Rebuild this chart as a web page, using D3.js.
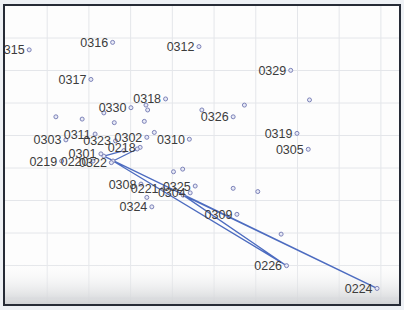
<!DOCTYPE html>
<html>
<head>
<meta charset="utf-8">
<script src="https://cdn.jsdelivr.net/npm/d3@7"></script>
<style>
  body { margin: 0; background: #eef1f5; }
  svg { display: block; }
</style>
</head>
<body>
<div class="chart"></div>
<script>
// labelled points (date, x, y)
const dates = ["0218","0219","0220","0221","0222","0223","0224","0225","0226","0227","0228",
  "0301","0302","0303","0304","0305","0308","0309","0310","0311","0312","0315","0316",
  "0317","0318","0319","0322","0323","0324","0325","0326","0329","0330"];
const xVals = [3.24,1.36,2.11,3.79,2.85,2.37,8.92,4.27,6.75,2.59,3.17,
  2.30,3.40,1.46,4.44,7.27,3.26,5.56,4.42,2.16,4.65,0.58,2.58,
  2.06,3.85,7.00,2.55,2.65,3.52,4.56,5.47,6.85,3.02];
const yVals = [4.62,4.20,4.20,3.34,4.52,4.35,0.28,3.15,0.98,4.20,4.57,
  4.42,4.93,4.85,3.22,4.56,3.49,2.56,4.87,5.03,7.72,7.62,7.85,
  6.71,6.11,5.05,4.15,4.82,2.79,3.43,5.56,6.99,5.84];
// dates whose label is not drawn
const unlabeled = ["0222","0223","0225","0227","0228"];
// dates joined by the line
const lineDates = ["0222","0223","0224","0225","0226","0227","0228"];

// unlabelled markers
const plainX = [3.38,3.42,1.22,1.85,2.62,3.34,2.37,5.74,7.30,4.72,3.58,4.04,4.26,3.40,5.47,6.06,6.62];
const plainY = [5.92,5.77,5.56,5.49,5.38,5.42,5.68,5.92,6.08,5.77,5.08,3.87,3.95,3.08,3.36,3.26,1.95];

const width = 404, height = 310;
const pLeft = 5, pRight = 400, pTop = 5, pBottom = 305;

const svg = d3.select(".chart").append("svg")
  .attr("width", width)
  .attr("height", height);

const defs = svg.append("defs");
defs.append("clipPath").attr("id", "plot")
  .append("rect").attr("x", pLeft).attr("y", pTop)
  .attr("width", pRight - pLeft).attr("height", pBottom - pTop);
const grad = defs.append("linearGradient").attr("id", "glare")
  .attr("x1", 0).attr("y1", 0).attr("x2", 0).attr("y2", 1);
grad.append("stop").attr("offset", "0%").attr("stop-color", "#ffffff").attr("stop-opacity", 0);
grad.append("stop").attr("offset", "100%").attr("stop-color", "#cfd1d4").attr("stop-opacity", 1);

svg.append("rect").attr("x", pLeft).attr("y", pTop)
  .attr("width", pRight - pLeft).attr("height", pBottom - pTop)
  .attr("fill", "#fdfdfd");

const x = d3.scaleLinear().domain([0, 9.47]).range([pLeft, pRight]);
const y = d3.scaleLinear().domain([-0.23, 9]).range([pBottom, pTop]);

const plot = svg.append("g").attr("clip-path", "url(#plot)");

// grid
plot.append("g")
  .attr("transform", `translate(0,${pBottom})`)
  .call(d3.axisBottom(x).tickValues(d3.range(1, 10)).tickSize(-(pBottom - pTop)).tickFormat(""))
  .call(g => g.select(".domain").remove())
  .call(g => g.selectAll("line").attr("stroke", "#e4e6ea"));
plot.append("g")
  .attr("transform", `translate(${pLeft},0)`)
  .call(d3.axisLeft(y).tickValues(d3.range(0, 9)).tickSize(-(pRight - pLeft)).tickFormat(""))
  .call(g => g.select(".domain").remove())
  .call(g => g.selectAll("line").attr("stroke", "#e4e6ea"));

// bottom glare
plot.append("rect").attr("x", pLeft).attr("y", 262)
  .attr("width", pRight - pLeft).attr("height", pBottom - 262)
  .attr("fill", "url(#glare)");

const points = dates.map((d, i) => ({ date: d, x: xVals[i], y: yVals[i] }));
const byDate = new Map(points.map(p => [p.date, p]));

// trajectory line
const line = d3.line().x(d => x(d.x)).y(d => y(d.y));
plot.append("path")
  .datum(lineDates.map(d => byDate.get(d)))
  .attr("d", line)
  .attr("fill", "none")
  .attr("stroke", "#4d6cc0")
  .attr("stroke-width", 1.3)
  .attr("stroke-linejoin", "round");

// markers
const allMarks = points.concat(plainX.map((v, i) => ({ date: "", x: v, y: plainY[i] })));
plot.selectAll("circle.pt")
  .data(allMarks)
  .enter()
  .append("circle")
  .attr("class", "pt")
  .attr("cx", d => x(d.x))
  .attr("cy", d => y(d.y))
  .attr("r", 2)
  .attr("fill", "#e8eaf6")
  .attr("stroke", "#7c82b8")
  .attr("stroke-width", 1);

// labels
plot.selectAll("text.lbl")
  .data(points.filter(p => !unlabeled.includes(p.date)))
  .enter()
  .append("text")
  .attr("class", "lbl")
  .attr("x", d => x(d.x) - 4.5)
  .attr("y", d => y(d.y) + 4.5)
  .attr("text-anchor", "end")
  .style("font-family", "'Liberation Sans', Arial, sans-serif")
  .style("font-size", "12.5px")
  .style("fill", "#3c3c3c")
  .text(d => d.date);

// frame
svg.append("rect").attr("x", pLeft - 1).attr("y", pTop)
  .attr("width", pRight - pLeft + 1).attr("height", pBottom - pTop)
  .attr("fill", "none")
  .attr("stroke", "#262b36")
  .attr("stroke-width", 2);
</script>
</body>
</html>
